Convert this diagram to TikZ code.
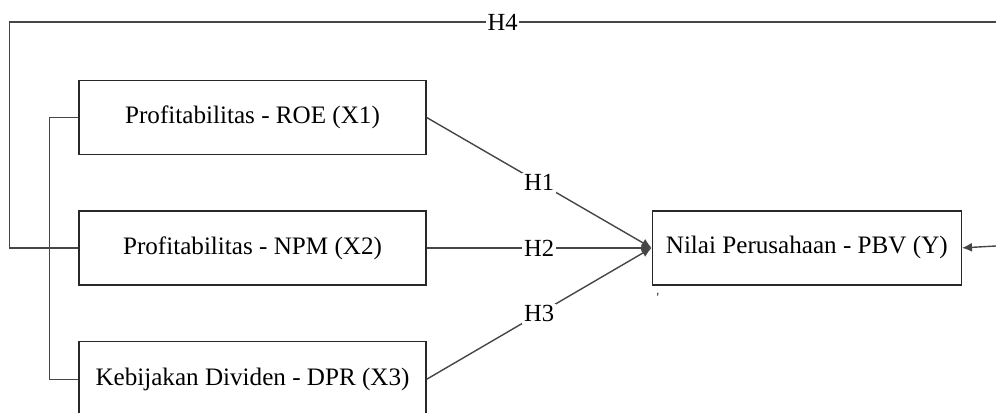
\documentclass[tikz,border=0pt]{standalone}
\usepackage{fontspec}
\setmainfont{Liberation Serif}
\usetikzlibrary{positioning, arrows.meta}
\definecolor{lineGray}{RGB}{70,70,70}
\definecolor{boxInk}{RGB}{40,40,40}

\begin{document}
\begin{tikzpicture}[
      x=0.02cm, y=-0.02cm,
      node distance=1.1cm and 4.5cm,
      box/.style={rectangle, draw=boxInk, line width=0.8pt, fill=white,
        minimum height=1.48cm, minimum width=6.94cm, align=center,
        font=\fontsize{14.3}{17}\selectfont, inner sep=0pt},
      outbox/.style={box, minimum width=6.18cm},
      link/.style={draw=lineGray, line width=0.8pt},
      arr/.style={link, -{Latex[length=2mm, width=1.8mm]}},
      hyp/.style={fill=white, inner sep=1pt, font=\fontsize{14}{16}\selectfont}
    ]
    \useasboundingbox (0,0) rectangle (996,412);

    \node[box] (x1) at (252.5,117.5) {Profitabilitas - ROE (X1)};
    \node[box, below=of x1] (x2) {Profitabilitas - NPM (X2)};
    \node[box, below=of x2, minimum height=1.52cm] (x3) {Kebijakan Dividen - DPR (X3)};
    \node[outbox, right=of x2] (y) {Nilai Perusahaan - PBV (Y)};

    \coordinate (topR) at (996,22);
    \coordinate (sideR) at (996,246);

    % brackets on the left
    \draw[link] (x1.west) -- ++(-29,0) |- (x3.west);
    \draw[link] (x2.west) -- ++(-69,0) |- (topR)
      node[hyp, pos=0.75] {H4};
    \draw[arr] (sideR) -- (y.east);

    % hypotheses
    \draw[arr] (x1.east) -- (y.west) node[hyp, midway] {H1};
    \draw[arr] (x2.east) -- (y.west) node[hyp, midway] {H2};
    \draw[arr] (x3.east) -- (y.west) node[hyp, midway] {H3};

    \node[font=\footnotesize, text=boxInk] (tick) at (658,298) {\textquotesingle};
  \end{tikzpicture}
\end{document}
